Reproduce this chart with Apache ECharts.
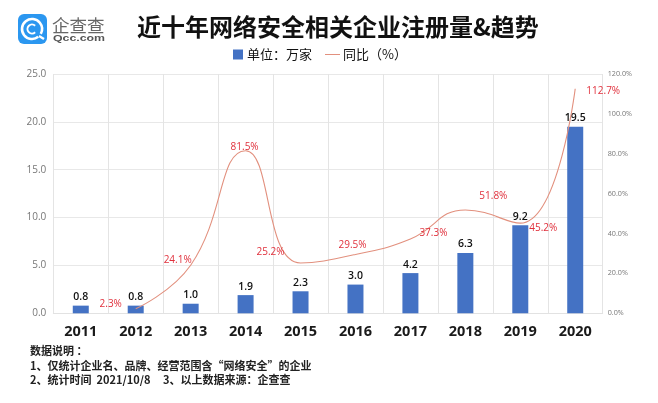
<!DOCTYPE html>
<html><head><meta charset="utf-8">
<style>html,body{margin:0;padding:0;background:#fff}#c{width:658px;height:403px}</style>
<script src="https://cdn.jsdelivr.net/npm/echarts@6/dist/echarts.min.js"></script>
</head><body><div id="c"></div>
<script>
const years = ['2011','2012','2013','2014','2015','2016','2017','2018','2019','2020'];
const companies = [0.8,0.8,1.0,1.9,2.3,3.0,4.2,6.3,9.2,19.5];
const growth = [null,2.3,24.1,81.5,25.2,29.5,37.3,51.8,45.2,112.7];
const leftTicks = [0,5,10,15,20,25];
const rightTicks = [0,20,40,60,80,100,120];
const titleText = '近十年网络安全相关企业注册量&趋势';
const notes = ['数据说明 ：','1、仅统计企业名、品牌、经营范围含“网络安全”的企业','2、统计时间  2021/10/8     3、以上数据来源：企查查'];
const barName = '单位：万家', lineName = '同比（%）';
const labelOffsets = [null,[-25,-5],[-13,-5],[-1,-4],[-30,-11],[-3,-9],[23,-6],[28,-14],[23,5],[28,3]];

const font = '"Noto Sans CJK SC","Noto Sans",sans-serif';
const open = '"Open Sans",sans-serif';
const chart = echarts.init(document.getElementById('c'), null, {renderer:'canvas'});
chart.setOption({
  animation:false,
  backgroundColor:'#fff',
  title:{text:titleText,left:137,top:15,padding:0,textStyle:{fontFamily:font,fontSize:24,fontWeight:'bold',color:'#111'}},
  legend:[
    {data:[{name:barName,icon:'rect'}],left:233,top:48,padding:0,itemWidth:10,itemHeight:10,itemGap:5,
     textStyle:{fontFamily:font,fontSize:13,color:'#111',padding:[0,0,0,-1]}},
    {data:[{name:lineName,icon:'rect',itemStyle:{color:'#e2907e'}}],left:325,top:48,padding:0,itemWidth:15,itemHeight:1,itemGap:3,
     textStyle:{fontFamily:font,fontSize:13,color:'#111',padding:[0,0,0,-2]}}
  ],
  grid:{left:53.3,right:55.3,top:74,bottom:89.7,containLabel:false},
  xAxis:{type:'category',data:years,
    axisLine:{lineStyle:{color:'#e2e2e2',width:1}},axisTick:{show:false},
    axisLabel:{margin:11,fontFamily:open,fontSize:14.5,fontWeight:'bold',color:'#1a1a1a'},
    splitLine:{show:true,interval:0,lineStyle:{color:'#e4e4e4',width:1}}},
  yAxis:[
    {type:'value',min:leftTicks[0],max:leftTicks[leftTicks.length-1],interval:leftTicks[1]-leftTicks[0],
     axisLine:{show:false},axisTick:{show:false},
     axisLabel:{margin:7,fontFamily:open,fontSize:10,color:'#777',formatter:v=>v.toFixed(1)},
     splitLine:{show:true,lineStyle:{color:'#e8e8e8',width:1}}},
    {type:'value',min:rightTicks[0],max:rightTicks[rightTicks.length-1],interval:rightTicks[1]-rightTicks[0],
     axisLine:{show:false},axisTick:{show:false},
     axisLabel:{margin:5,fontFamily:open,fontSize:7.2,color:'#777',formatter:v=>v.toFixed(1)+'%'},
     splitLine:{show:false}}
  ],
  series:[
    {name:barName,type:'bar',data:companies,barWidth:16,
     itemStyle:{color:'#4472c4'},
     label:{show:true,position:'top',distance:3,fontFamily:open,fontSize:10.5,fontWeight:600,color:'#111',formatter:p=>p.value.toFixed(1)}},
    {name:lineName,type:'line',yAxisIndex:1,smooth:0.48,connectNulls:false,
     data:growth.map((v,i)=>({value:v,label:labelOffsets[i]?{offset:labelOffsets[i]}:{}})),
     symbol:'circle',symbolSize:0,showSymbol:true,
     itemStyle:{color:'#e2907e'},
     lineStyle:{color:'#e2907e',width:1.1},
     label:{show:true,position:'inside',fontFamily:open,fontSize:10,color:'#e0303c',formatter:p=>p.value.toFixed(1)+'%'},
     z:5}
  ],
  graphic:[
    {type:'rect',shape:{x:18,y:14,width:29,height:30,r:6},style:{fill:'#2b97f0'}},
    {type:'arc',shape:{cx:32,cy:29,r:10,startAngle:0.9,endAngle:0.5,clockwise:true},style:{stroke:'#fff',fill:null,lineWidth:2.6}},
    {type:'arc',shape:{cx:32,cy:29,r:4.5,startAngle:0.8,endAngle:-0.8,clockwise:true},style:{stroke:'#fff',fill:null,lineWidth:2}},
    {type:'line',shape:{x1:39,y1:36,x2:44,y2:39},style:{stroke:'#fff',lineWidth:2.4}},
    {type:'text',x:52,y:16.5,style:{text:'企查查',fontFamily:font,fontSize:17.5,fill:'#666'}},
    {type:'text',x:53,y:34.5,scaleX:1.45,style:{text:'Qcc.com',fontFamily:'"Liberation Sans",sans-serif',fontSize:8.5,fill:'#555',fontWeight:'bold'}},
    {type:'text',x:30,y:345.5,style:{text:notes[0],fontFamily:font,fontSize:11,fontWeight:'bold',fill:'#222'}},
    {type:'text',x:30,y:360.5,style:{text:notes[1],fontFamily:font,fontSize:11,fontWeight:'bold',fill:'#222'}},
    {type:'text',x:30,y:374.5,style:{text:notes[2],fontFamily:font,fontSize:11,fontWeight:'bold',fill:'#222'}}
  ]
});
</script></body></html>
